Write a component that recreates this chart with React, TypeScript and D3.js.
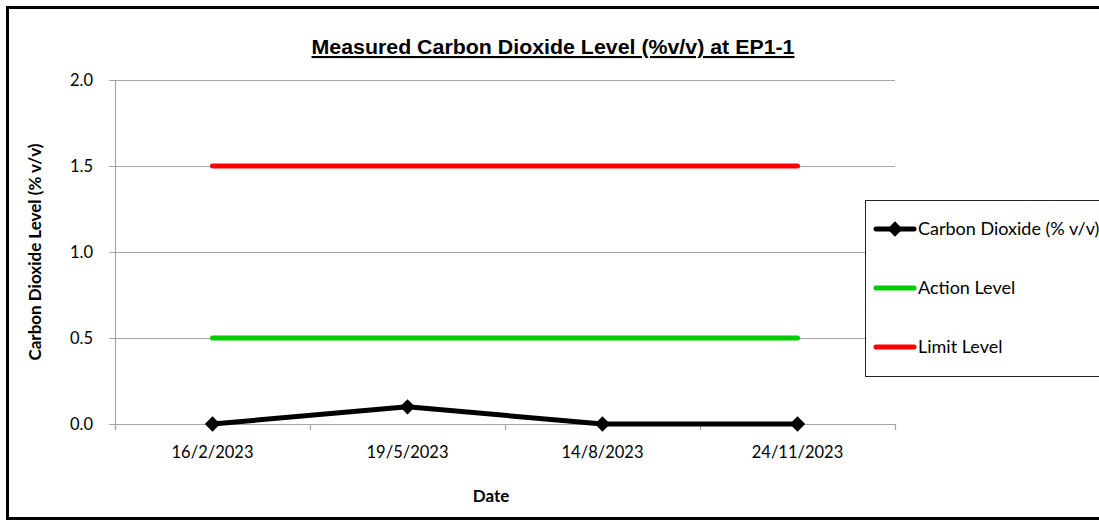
import { useEffect, useRef } from 'react';
import * as d3 from 'd3';

const DATES = ['16/2/2023', '19/5/2023', '14/8/2023', '24/11/2023'];
const CO2 = [0.0, 0.1, 0.0, 0.0];
const ACTION = [0.5, 0.5, 0.5, 0.5];
const LIMIT = [1.5, 1.5, 1.5, 1.5];
const Y_TICKS = [0, 0.5, 1.0, 1.5, 2.0];

const SERIES = [
  { name: 'Carbon Dioxide (% v/v)', values: CO2, color: '#000000', marker: true },
  { name: 'Action Level', values: ACTION, color: '#00cc00', marker: false },
  { name: 'Limit Level', values: LIMIT, color: '#ff0000', marker: false },
];

const W = 1099;
const H = 521;
const BODY_FONT = 'Lato, "Open Sans", sans-serif';

export default function App() {
  const svgRef = useRef<SVGSVGElement>(null);

  useEffect(() => {
    if (!svgRef.current) return;
    const svg = d3.select(svgRef.current);
    svg.selectAll('*').remove();

    const plot = { left: 115, right: 895, top: 80, bottom: 424 };

    // outer frame
    svg.append('rect')
      .attr('x', 7.5).attr('y', 7.5)
      .attr('width', W + 20).attr('height', H - 10)
      .attr('fill', '#fff')
      .attr('stroke', '#000')
      .attr('stroke-width', 3);

    const x = d3.scaleBand<string>()
      .domain(DATES)
      .range([plot.left, plot.right])
      .padding(0);
    const cx = (d: string) => (x(d) || 0) + x.bandwidth() / 2;

    const y = d3.scaleLinear()
      .domain([0, 2])
      .range([plot.bottom, plot.top]);

    // gridlines
    svg.selectAll('.grid')
      .data(Y_TICKS)
      .join('line')
      .attr('x1', plot.left - 6)
      .attr('x2', plot.right)
      .attr('y1', (d: number) => y(d) + 0.5)
      .attr('y2', (d: number) => y(d) + 0.5)
      .attr('stroke', '#a6a6a6')
      .attr('stroke-width', 1.2);

    // y axis line
    svg.append('line')
      .attr('x1', plot.left + 0.5).attr('x2', plot.left + 0.5)
      .attr('y1', plot.top).attr('y2', plot.bottom + 6)
      .attr('stroke', '#a6a6a6')
      .attr('stroke-width', 1.2);

    // x ticks at category boundaries
    const boundaries = [...DATES.map((d) => x(d) || 0), plot.right];
    svg.selectAll('.xtick')
      .data(boundaries)
      .join('line')
      .attr('x1', (d: number) => d + 0.5)
      .attr('x2', (d: number) => d + 0.5)
      .attr('y1', plot.bottom)
      .attr('y2', plot.bottom + 6)
      .attr('stroke', '#a6a6a6')
      .attr('stroke-width', 1.2);

    // y tick labels
    svg.selectAll('.ylab')
      .data(Y_TICKS)
      .join('text')
      .attr('x', 93)
      .attr('y', (d: number) => y(d))
      .attr('dy', '0.35em')
      .attr('text-anchor', 'end')
      .style('font-family', BODY_FONT)
      .style('font-size', '16.5px')
      .text((d: number) => d3.format('.1f')(d));

    // x tick labels
    svg.selectAll('.xlab')
      .data(DATES)
      .join('text')
      .attr('x', (d: string) => cx(d))
      .attr('y', 452)
      .attr('dy', '0.35em')
      .attr('text-anchor', 'middle')
      .style('font-family', BODY_FONT)
      .style('font-size', '16.5px')
      .text((d: string) => d);

    // series lines
    const line = d3.line<number>()
      .x((_d: number, i: number) => cx(DATES[i]))
      .y((d: number) => y(d));

    [...SERIES].reverse().forEach((s) => {
      svg.append('path')
        .attr('d', line(s.values) || '')
        .attr('fill', 'none')
        .attr('stroke', s.color)
        .attr('stroke-width', 5)
        .attr('stroke-linecap', 'round')
        .attr('stroke-linejoin', 'round');
    });

    // diamond markers
    const diamond = d3.symbol().type(d3.symbolDiamond2).size(150);
    svg.selectAll('.marker')
      .data(CO2)
      .join('path')
      .attr('transform', (d: number, i: number) => `translate(${cx(DATES[i])},${y(d)})`)
      .attr('d', diamond() || '')
      .attr('fill', '#000');

    // title
    svg.append('text')
      .attr('x', 553)
      .attr('y', 54)
      .attr('text-anchor', 'middle')
      .attr('textLength', 483)
      .attr('lengthAdjust', 'spacingAndGlyphs')
      .style('font-family', '"Liberation Sans", Arial, sans-serif')
      .style('font-size', '21px')
      .style('font-weight', 'bold')
      .style('text-decoration', 'underline')
      .text('Measured Carbon Dioxide Level (%v/v) at EP1-1');

    // axis titles
    svg.append('text')
      .attr('transform', `translate(41,${(plot.top + plot.bottom) / 2}) rotate(-90)`)
      .attr('text-anchor', 'middle')
      .style('font-family', BODY_FONT)
      .style('font-size', '17px')
      .style('font-weight', 'bold')
      .text('Carbon Dioxide Level (% v/v)');

    svg.append('text')
      .attr('x', 491)
      .attr('y', 502)
      .attr('text-anchor', 'middle')
      .style('font-family', BODY_FONT)
      .style('font-size', '17px')
      .style('font-weight', 'bold')
      .text('Date');

    // legend
    const lg = svg.append('g');
    lg.append('rect')
      .attr('x', 865.5).attr('y', 200.5)
      .attr('width', 260).attr('height', 176)
      .attr('fill', '#fff')
      .attr('stroke', '#222')
      .attr('stroke-width', 1);
    const legendY = d3.scalePoint<string>()
      .domain(SERIES.map((s) => s.name))
      .range([229, 347]);
    SERIES.forEach((s) => {
      const ly = legendY(s.name) || 0;
      lg.append('line')
        .attr('x1', 876).attr('x2', 914)
        .attr('y1', ly).attr('y2', ly)
        .attr('stroke', s.color)
        .attr('stroke-width', 5)
        .attr('stroke-linecap', 'round');
      if (s.marker) {
        lg.append('path')
          .attr('transform', `translate(895,${ly})`)
          .attr('d', diamond() || '')
          .attr('fill', '#000');
      }
      lg.append('text')
        .attr('x', 918)
        .attr('y', ly)
        .attr('dy', '0.35em')
        .style('font-family', BODY_FONT)
        .style('font-size', '18px')
        .text(s.name);
    });
  }, []);

  return (
    <svg
      ref={svgRef}
      width={W}
      height={H}
      style={{ position: 'absolute', left: 0, top: 0, display: 'block', background: '#fff' }}
    />
  );
}
